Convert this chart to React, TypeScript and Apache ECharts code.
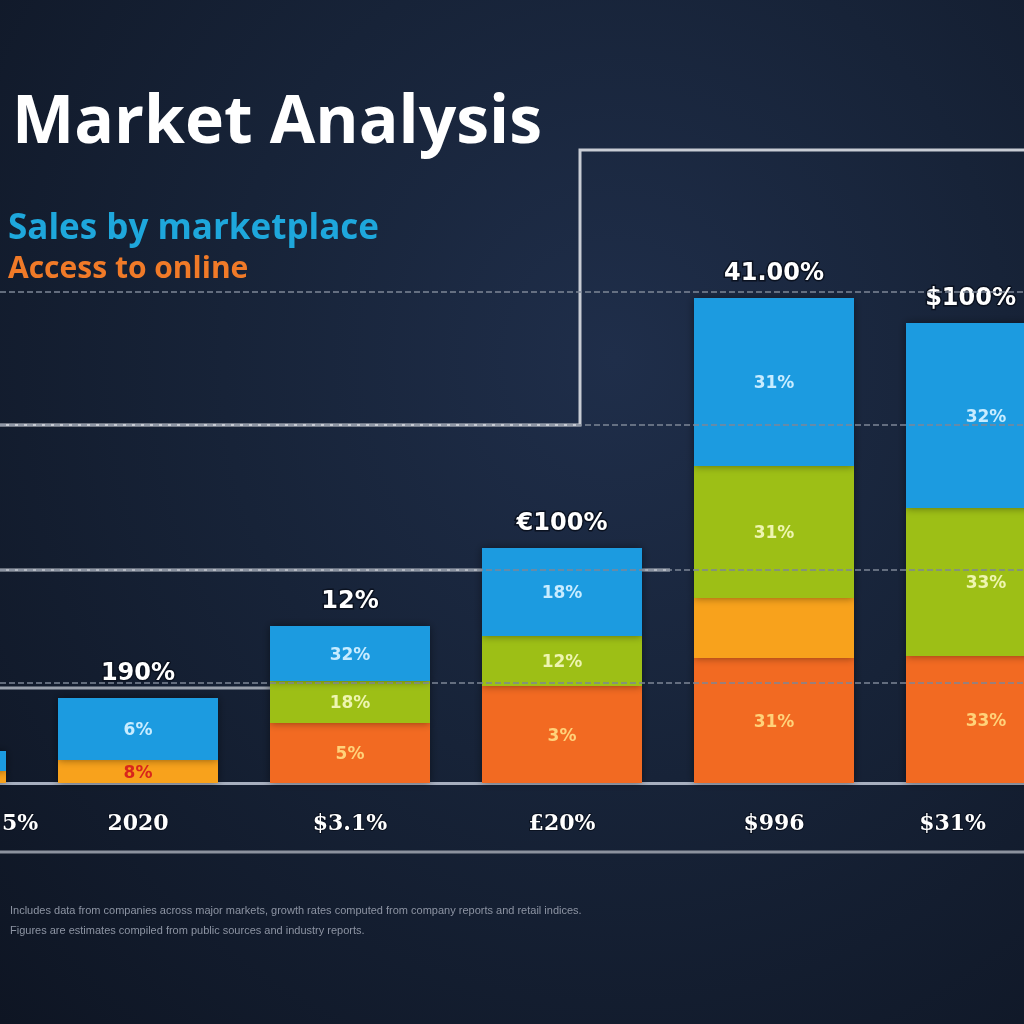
import React, { useEffect, useRef } from "react";
import * as echarts from "echarts";

const categories = ["5%", "2020", "$3.1%", "£20%", "$996", "$31%"];
const orangeValues = [0, 0, 6.0, 9.7, 12.5, 12.7];
const amberValues = [1.2, 2.3, 0, 0, 6.0, 0];
const greenValues = [0, 0, 4.2, 5.0, 13.2, 14.8];
const blueValues = [2.0, 6.2, 5.5, 8.8, 16.8, 18.5];
const orangeLabels = ["", "", "5%", "3%", "31%", "33%"];
const amberLabels = ["", "8%", "", "", "", ""];
const greenLabels = ["", "", "18%", "12%", "31%", "33%"];
const blueLabels = ["", "6%", "32%", "18%", "31%", "32%"];
const totalLabels = ["", "190%", "12%", "€100%", "41.00%", "$100%"];
const referenceLevels = [10.0, 21.3, 35.8, 49.1];

export default function App() {
  const ref = useRef<HTMLDivElement>(null);
  useEffect(() => {
    if (!ref.current) return;
    const chart = echarts.init(ref.current, null, { renderer: "svg" });
    const last = categories.length - 1;
    const BW = 160;
    const seg = (name: string, data: number[], labels: string[], color: string, labelColor: string) => ({
      name,
      type: "bar",
      stack: "total",
      barWidth: BW,
      z: 3,
      data,
      itemStyle: { color, shadowBlur: 8, shadowColor: "rgba(0,0,0,0.45)" },
      label: {
        show: true,
        position: "inside",
        color: labelColor,
        fontSize: 17,
        fontWeight: "bold",
        fontFamily: "DejaVu Sans",
        formatter: (p: any) => labels[p.dataIndex] || "",
      },
    });
    chart.setOption({
      animation: false,
      backgroundColor: "transparent",
      grid: { left: -180, right: -68, top: 183, bottom: 241, containLabel: false, outerBoundsMode: "none" },
      xAxis: {
        type: "category",
        data: categories.map((c, i) =>
          i === 0
            ? { value: c, textStyle: { align: "left", padding: [0, 0, 0, 76] } }
            : i === last
            ? { value: c, textStyle: { align: "right", padding: [0, 0, 0, 0] } }
            : c
        ),
        axisLine: { show: true, lineStyle: { color: "#a7afbf", width: 3 } },
        axisTick: { show: false },
        axisLabel: {
          color: "#ffffff",
          fontSize: 22,
          fontWeight: "bold",
          fontFamily: "DejaVu Serif",
          margin: 28,
          textBorderColor: "#0b1220",
          textBorderWidth: 2,
        },
      },
      yAxis: { type: "value", min: 0, max: 60, show: false, splitLine: { show: false } },
      graphic: [
        {
          type: "polyline",
          z: 0,
          shape: { points: [[0, 425], [580, 425], [580, 150], [1024, 150]] },
          style: { stroke: "#c8ccd4", lineWidth: 3, fill: "none" },
        },
        {
          type: "line",
          z: 0,
          shape: { x1: 0, y1: 570, x2: 670, y2: 570 },
          style: { stroke: "#b4b9c3", lineWidth: 3 },
        },
        {
          type: "line",
          z: 0,
          shape: { x1: 0, y1: 688, x2: 270, y2: 688 },
          style: { stroke: "#9aa1ad", lineWidth: 3 },
        },
        {
          type: "line",
          z: 0,
          shape: { x1: 0, y1: 852, x2: 1024, y2: 852 },
          style: { stroke: "#8c929e", lineWidth: 3 },
        },
        {
          type: "text",
          left: 12,
          top: 84,
          style: {
            text: "Market Analysis",
            fill: "#ffffff",
            fontSize: 66,
            fontWeight: "bold",
            fontFamily: "Open Sans",
            shadowBlur: 6,
            shadowColor: "rgba(0,0,0,0.6)",
          },
        },
        {
          type: "text",
          left: 8,
          top: 208,
          style: { text: "Sales by marketplace", fill: "#1ea7dc", fontSize: 35, fontWeight: "bold", fontFamily: "Open Sans" },
        },
        {
          type: "text",
          left: 8,
          top: 251,
          style: { text: "Access to online", fill: "#f07a28", fontSize: 30, fontWeight: "bold", fontFamily: "Open Sans" },
        },
        {
          type: "text",
          left: 10,
          top: 904,
          style: {
            text: "Includes data from companies across major markets, growth rates computed from company reports and retail indices.",
            fill: "#8d94a3",
            fontSize: 11,
            fontFamily: "Liberation Sans",
          },
        },
        {
          type: "text",
          left: 10,
          top: 924,
          style: {
            text: "Figures are estimates compiled from public sources and industry reports.",
            fill: "#8d94a3",
            fontSize: 11,
            fontFamily: "Liberation Sans",
          },
        },
      ],
      series: [
        {
          type: "line",
          data: [],
          z: 1,
          markLine: {
            silent: true,
            symbol: "none",
            label: { show: false },
            data: referenceLevels.map((v) => ({
              yAxis: v,
              lineStyle: { color: "#7d8696", width: 1.5, type: "dashed" },
            })),
          },
        },
        seg("Orange", orangeValues, orangeLabels, "#f26a21", "#ffd27a"),
        seg("Amber", amberValues, amberLabels, "#f8a21a", "#d8261c"),
        seg("Green", greenValues, greenLabels, "#9dbf13", "#eef5b0"),
        seg("Blue", blueValues, blueLabels, "#1b9be0", "#c8ecff"),
        {
          name: "Total",
          type: "bar",
          stack: "total",
          barWidth: BW,
          z: 3,
          data: categories.map((_, i) =>
            i === last ? { value: 0, label: { align: "right", offset: [30, 0] } } : 0
          ),
          itemStyle: { color: "transparent" },
          label: {
            show: true,
            position: "top",
            distance: 14,
            color: "#ffffff",
            fontSize: 24,
            fontWeight: "bold",
            fontFamily: "DejaVu Sans",
            textBorderColor: "#0b1220",
            textBorderWidth: 3,
            formatter: (p: any) => totalLabels[p.dataIndex] || "",
          },
        },
      ],
    });
    return () => chart.dispose();
  }, []);
  return (
    <div
      style={{
        position: "fixed",
        left: 0,
        top: 0,
        width: 1024,
        height: 1024,
        background: "radial-gradient(ellipse at 60% 35%, #1f2e4a 0%, #172338 45%, #0e1523 100%)",
      }}
    >
      <div ref={ref} style={{ width: 1024, height: 1024 }} />
    </div>
  );
}
